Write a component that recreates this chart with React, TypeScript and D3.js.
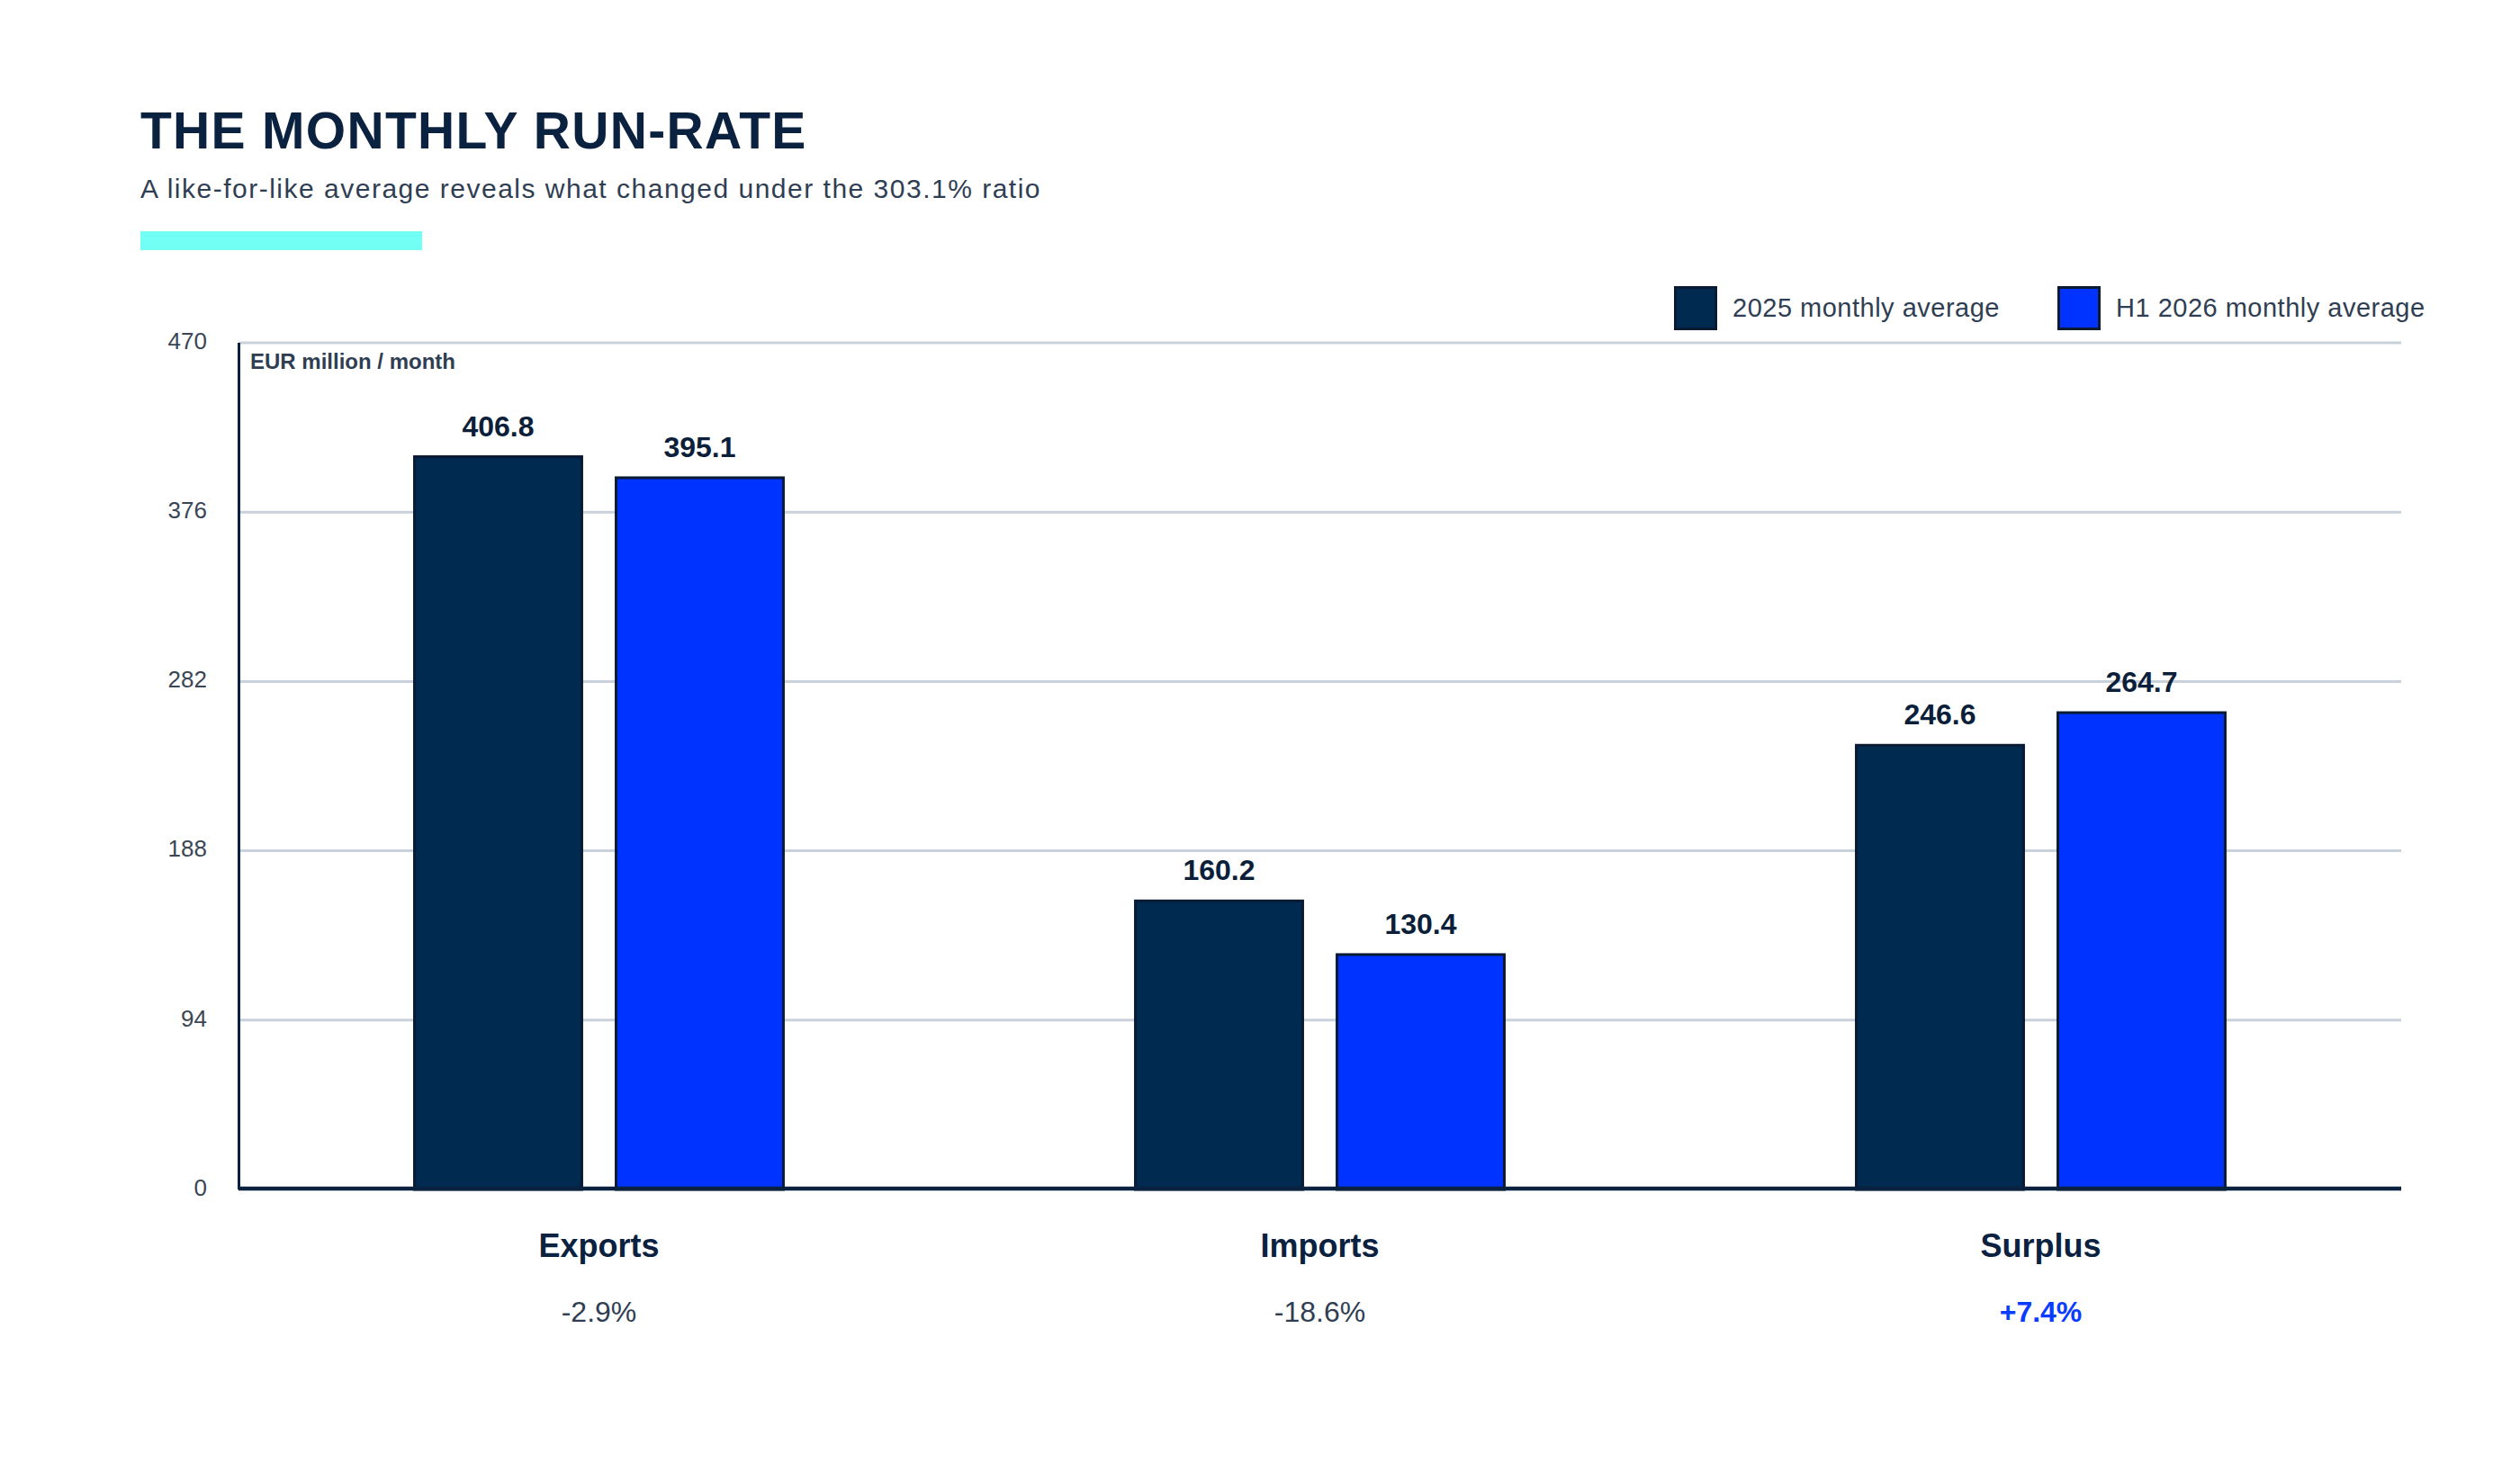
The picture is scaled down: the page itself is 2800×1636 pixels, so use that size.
import { useEffect } from "react";
import * as d3 from "d3";

// values
const categories = ["Exports", "Imports", "Surplus"];
const seriesNames = ["2025 monthly average", "H1 2026 monthly average"];
const avg2025 = [406.8, 160.2, 246.6];
const avgH12026 = [395.1, 130.4, 264.7];
const changeLabels = ["-2.9%", "-18.6%", "+7.4%"];
const yTicks = [0, 94, 188, 282, 376, 470];

const W = 2800;
const H = 1636;
const plot = { left: 265, right: 2668, top: 381, bottom: 1322 };

const colors = ["#002a50", "#0033ff"];
const barStroke = "#0a1a33";
const navy = "#0b2140";
const grey = "#2f3e52";
const font = "'Liberation Sans', Arial, Helvetica, sans-serif";

export default function App() {
  useEffect(() => {
    document.body.style.margin = "0";
  }, []);

  const x0 = d3
    .scaleBand<string>()
    .domain(categories)
    .range([plot.left, plot.right])
    .paddingInner(0)
    .paddingOuter(0);

  const x1 = d3
    .scaleBand<string>()
    .domain(seriesNames)
    .range([0, x0.bandwidth()])
    .paddingInner(0.17)
    .paddingOuter(0.873);

  const y = d3.scaleLinear().domain([0, 470]).range([plot.bottom, plot.top]);

  const series = [avg2025, avgH12026];

  return (
    <svg width={W} height={H} style={{ display: "block", background: "#fff" }}>
      {/* header */}
      <text x={156} y={165} fontFamily={font} fontWeight="bold" fontSize={57} fill={navy} letterSpacing={1.3}>
        THE MONTHLY RUN-RATE
      </text>
      <text x={156} y={220} fontFamily={font} fontSize={30} fill={grey} letterSpacing={1.5}>
        A like-for-like average reveals what changed under the 303.1% ratio
      </text>
      <rect x={156} y={257} width={313} height={21} fill="#72fff4" />

      {/* legend */}
      {seriesNames.map((s, i) => {
        const lx = i === 0 ? 1860 : 2286;
        return (
          <g key={s}>
            <rect x={lx + 1.5} y={319.5} width={45} height={46} fill={colors[i]} stroke={barStroke} strokeWidth={3} />
            <text x={lx + 65} y={352} fontFamily={font} fontSize={29} fill={grey} letterSpacing={0.5}>
              {s}
            </text>
          </g>
        );
      })}

      {/* gridlines */}
      {yTicks
        .filter((t) => t > 0)
        .map((t) => (
          <line key={t} x1={plot.left} x2={plot.right} y1={y(t)} y2={y(t)} stroke="#c9d1db" strokeWidth={3} />
        ))}

      {/* y tick labels */}
      {yTicks.map((t) => (
        <text
          key={t}
          x={230}
          y={y(t)}
          textAnchor="end"
          dominantBaseline="middle"
          fontFamily={font}
          fontSize={26}
          fill="#3a4654"
        >
          {t}
        </text>
      ))}

      <text x={278} y={410} fontFamily={font} fontWeight="bold" fontSize={24} fill={grey}>
        EUR million / month
      </text>

      {/* bars */}
      {categories.map((c, ci) => (
        <g key={c} transform={`translate(${x0(c)},0)`}>
          {seriesNames.map((s, si) => {
            const v = series[si][ci];
            const bx = x1(s) as number;
            return (
              <g key={s}>
                <rect
                  x={bx}
                  y={y(v)}
                  width={x1.bandwidth()}
                  height={y(0) - y(v)}
                  fill={colors[si]}
                  stroke={barStroke}
                  strokeWidth={3}
                />
                <text
                  x={bx + x1.bandwidth() / 2}
                  y={y(v) - 23}
                  textAnchor="middle"
                  fontFamily={font}
                  fontWeight="bold"
                  fontSize={32}
                  fill="#0b1f3a"
                >
                  {v.toFixed(1)}
                </text>
              </g>
            );
          })}
        </g>
      ))}

      {/* axes */}
      <line x1={265.5} x2={265.5} y1={plot.top} y2={plot.bottom} stroke="#0b2140" strokeWidth={3} />
      <line x1={plot.left} x2={plot.right} y1={plot.bottom - 1} y2={plot.bottom - 1} stroke="#0b2140" strokeWidth={4.5} />

      {/* category labels and change */}
      {categories.map((c, i) => {
        const cx = (x0(c) as number) + x0.bandwidth() / 2;
        const positive = changeLabels[i].startsWith("+");
        return (
          <g key={c}>
            <text x={cx} y={1397} textAnchor="middle" fontFamily={font} fontWeight="bold" fontSize={36} fill={navy}>
              {c}
            </text>
            <text
              x={cx}
              y={1469}
              textAnchor="middle"
              fontFamily={font}
              fontSize={32}
              fontWeight={positive ? "bold" : "normal"}
              fill={positive ? "#0a3cff" : grey}
            >
              {changeLabels[i]}
            </text>
          </g>
        );
      })}
    </svg>
  );
}
